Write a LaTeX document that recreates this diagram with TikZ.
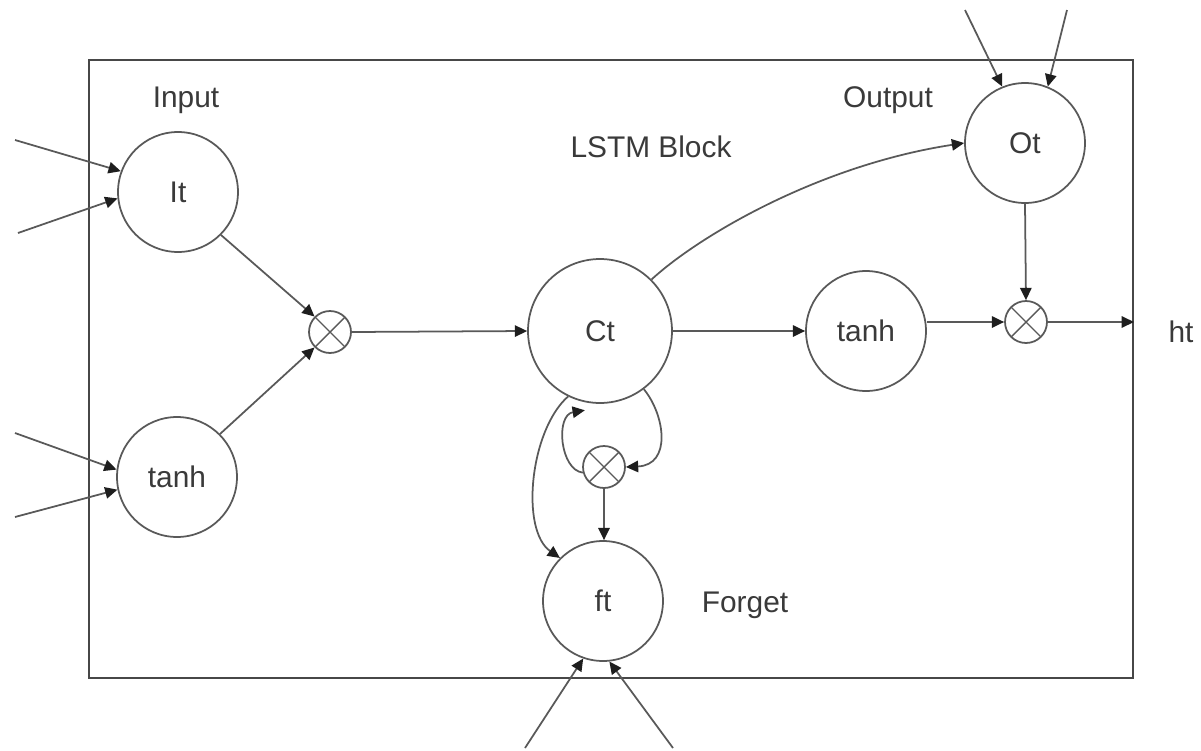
\documentclass[tikz,border=0pt]{standalone}
\usepackage{fontspec}
\setmainfont{Liberation Sans}
\usetikzlibrary{arrows.meta,calc}
\definecolor{ln}{HTML}{595959}
\definecolor{tx}{HTML}{3A3A3A}
\definecolor{tip}{HTML}{1E1E1E}
\begin{document}
\begin{tikzpicture}[x=0.02cm,y=-0.02cm,
  every node/.style={text=tx,font=\fontsize{17}{20}\selectfont},
  gate/.style={circle,draw=ln,line width=1pt,inner sep=0pt},
  mult/.style={circle,draw=ln,line width=1pt,inner sep=0pt,minimum size=0.84cm,
    path picture={\draw[ln,line width=0.8pt] (path picture bounding box.north west)--(path picture bounding box.south east)
      (path picture bounding box.north east)--(path picture bounding box.south west);}},
  arr/.style={draw=ln,line width=1pt,-{Triangle[length=7pt,width=6.5pt,color=tip]}},
  lbl/.style={inner sep=0pt}]
\useasboundingbox (0,0) rectangle (1201,751);
\node[draw=ln!80!black,line width=1.2pt,minimum width=20.88cm,minimum height=12.36cm,inner sep=0pt] (box) at (611,369) {};
% gates
\node[gate,minimum size=2.4cm] (It) at (178,192) {It};
\node[gate,minimum size=2.4cm] (tanhA) at (177,477) {tanh};
\node[mult] (mA) at (330,332) {};
\node[gate,minimum size=2.88cm] (Ct) at (600,331) {Ct};
\node[gate,minimum size=2.4cm] (tanhB) at (866,331) {tanh};
\node[mult] (mB) at (1026,322) {};
\node[gate,minimum size=2.4cm] (Ot) at (1025,143) {Ot};
\node[mult] (mC) at (604,467) {};
\node[gate,minimum size=2.4cm] (ft) at (603,601) {ft};
% labels
\node[lbl] (lin) at (186,100) {Input};
\node[lbl] (lout) at (888,100) {Output};
\node[lbl] (lblock) at (651,147) {LSTM Block};
\node[lbl] (lforget) at (745,605) {Forget};
\node[lbl] (ht) at (1181,332) {ht};
% free ends
\coordinate (i1) at (15,140);
\coordinate (i2) at (18,233);
\coordinate (i3) at (15,433);
\coordinate (i4) at (15,517);
\coordinate (o1) at (965,10);
\coordinate (o2) at (1067,10);
\coordinate (f1) at (525,748);
\coordinate (f2) at (673,748);
% input arrows
\draw[arr] (i1) -- (It.160);
\draw[arr] (i2) -- (It.186);
\draw[arr] (i3) -- (tanhA.173);
\draw[arr] (i4) -- (tanhA.192);
\draw[arr] (o1) -- (Ot.112);
\draw[arr] (o2) -- (Ot.68);
\draw[arr] (f1) -- (ft.251);
\draw[arr] (f2) -- (ft.276);
% internal
\draw[arr] (It.-45) -- (mA.135);
\draw[arr] (tanhA.45) -- (mA.-135);
\draw[arr] (mA.east) -- (Ct.west);
\draw[arr] (Ct.east) -- (tanhB.west);
\draw[arr] (tanhB.east |- mB.west) -- (mB.west);
\draw[arr] (mB.east) -- (mB.east -| box.east);
\draw[arr] (Ot.south) -- (mB.north);
\draw[arr] (Ct.45) .. controls (700,235) and (820,165) .. (Ot.west);
\draw[arr] (Ct.244) .. controls (530,430) and (520,530) .. (ft.135);
\draw[arr] (mC.195) .. controls (560,470) and (555,415) .. ($(Ct.258)+(0,8)$);
\draw[arr] (Ct.307) .. controls (665,415) and (672,465) .. (mC.east);
\draw[arr] (mC.south) -- (mC.south |- ft.north);
\end{tikzpicture}
\end{document}
